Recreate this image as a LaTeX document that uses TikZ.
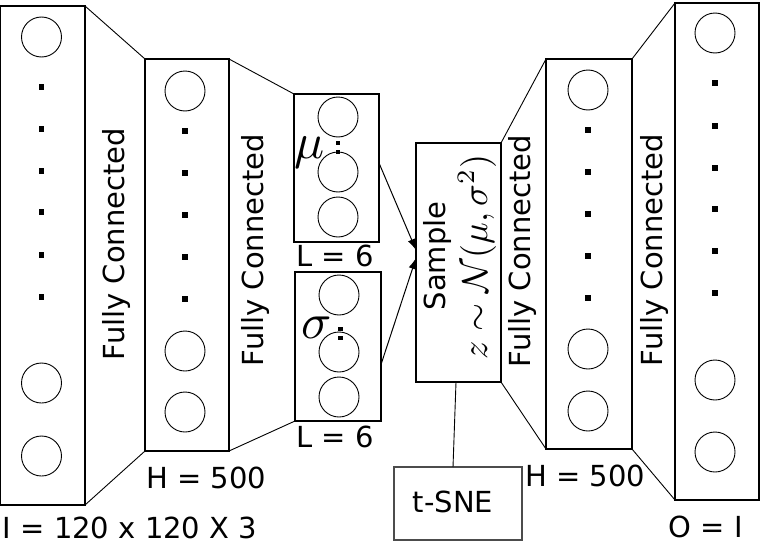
\documentclass[tikz,border=0pt]{standalone}
\usepackage[no-math]{fontspec}
\setmainfont{DejaVu Sans}
\usetikzlibrary{arrows.meta}
\tikzset{
  layer/.style={draw=black, line width=1.8pt, inner sep=0pt, outer sep=0pt, fill=none},
  neuron/.style={draw=black, line width=0.9pt, circle, minimum size=40pt, inner sep=0pt},
  dotmark/.style={fill=black, inner sep=0pt, minimum width=5.5pt, minimum height=5.5pt},
  smalldot/.style={fill=black, inner sep=0pt, minimum width=4.5pt, minimum height=4.5pt},
  link/.style={draw=black, line width=0.9pt},
  lbl/.style={font=\fontsize{29}{34}\selectfont, inner sep=0pt},
  fc/.style={lbl, rotate=90},
  greek/.style={font=\fontsize{10}{12}\selectfont, inner sep=0pt, scale=5},
  flow/.style={draw=black, line width=1pt, -{Latex[length=11pt,width=8pt]}},
}
\begin{document}
\begin{tikzpicture}[x=1pt,y=-1pt]
\useasboundingbox (0,0) rectangle (760,546);
% layers
\node[layer, minimum width=85pt, minimum height=499pt] (b1) at (42.5,255.5) {};
\node[layer, minimum width=84pt, minimum height=392pt] (b2) at (187,255) {};
\node[layer, minimum width=85pt, minimum height=148pt] (mu) at (336.5,168) {};
\node[layer, minimum width=86pt, minimum height=149pt] (sg) at (338,346.5) {};
\node[layer, minimum width=85pt, minimum height=239pt] (samp) at (458.5,262.5) {};
\node[layer, minimum width=86pt, minimum height=390pt] (b3) at (589,254) {};
\node[layer, minimum width=84pt, minimum height=497pt] (b4) at (717,251.5) {};
\node[draw=black!70, line width=1.2pt, minimum width=128pt, minimum height=73pt, inner sep=0pt, outer sep=0pt] (tsne) at (458,503.5) {};
% neurons
\node[neuron] (n11) at (41.5,37) {};
\node[neuron] (n12) at (41.5,383) {};
\node[neuron] (n13) at (41.5,456) {};
\node[neuron] (n21) at (185,91) {};
\node[neuron] (n22) at (185,351) {};
\node[neuron] (n23) at (185,412) {};
\node[neuron] (m1) at (338,117) {};
\node[neuron] (m2) at (338,172) {};
\node[neuron] (m3) at (338,217) {};
\node[neuron] (s1) at (339,295) {};
\node[neuron] (s2) at (339,352) {};
\node[neuron] (s3) at (339,397) {};
\node[neuron] (n31) at (588,90) {};
\node[neuron] (n32) at (588,349) {};
\node[neuron] (n33) at (588,411) {};
\node[neuron] (n41) at (715,33) {};
\node[neuron] (n42) at (715,380) {};
\node[neuron] (n43) at (715,452) {};
% dots
\foreach \y [count=\i] in {87,129,171,212,255,297} \node[dotmark] (d1\i) at (41.5,\y) {};
\foreach \y [count=\i] in {131,173,215,257,299} \node[dotmark] (d2\i) at (185,\y) {};
\foreach \y [count=\i] in {130,172,214,256,298} \node[dotmark] (d3\i) at (588,\y) {};
\foreach \y [count=\i] in {83,126,168,209,251,293} \node[dotmark] (d4\i) at (715,\y) {};
\node[smalldot] (dm1) at (338,143) {};
\node[smalldot] (dm2) at (338,152) {};
\node[smalldot] (ds1) at (340.5,329) {};
\node[smalldot] (ds2) at (340.5,338) {};
% greek labels
\node[greek] (mul) at (310,153) {$\mu$};
\node[greek] (sgl) at (317,328) {$\sigma$};
% connectors between layers
\draw[link] (b1.north east) -- (b2.north west);
\draw[link] (b1.south east) -- (b2.south west);
\draw[link] (b2.north east) -- (mu.north west);
\draw[link] (b2.south east) -- (sg.south west);
\draw[link] (samp.north east) -- (b3.north west);
\draw[link] (samp.south east) -- (b3.south west);
\draw[link] (b3.north east) -- (b4.north west);
\draw[link] (b3.south east) -- (b4.south west);
\draw[link] ([xshift=-2.5pt]samp.south) -- ([xshift=-5pt]tsne.north);
% arrows
\coordinate (tipm) at (416,250);
\coordinate (tips) at (416,258);
\draw[flow] ([yshift=5pt]mu.east) -- (tipm);
\draw[flow] ([yshift=-18pt]sg.east) -- (tips);
% texts
\node[fc] (fc1) at (116,244) {Fully Connected};
\node[fc] (fc2) at (255,250) {Fully Connected};
\node[fc] (fc3) at (522,251) {Fully Connected};
\node[fc] (fc4) at (654,250) {Fully Connected};
\node[fc] (smp) at (437,256) {Sample};
\node[rotate=90, font=\fontsize{10}{12}\selectfont, inner sep=0pt, scale=3.6] (dist) at (477,257) {$z\sim\mathcal{N}(\mu,\sigma^2)$};
\node[lbl] (inl) at (130,528) {I = 120 x 120 X 3};
\node[lbl] (h1) at (206,478) {H = 500};
\node[lbl] (h2) at (585,476) {H = 500};
\node[lbl] (ol) at (706,527) {O = I};
\node[lbl] (l1) at (335,256) {L = 6};
\node[lbl] (l2) at (335,437) {L = 6};
\node[lbl] (ts) at (453,502) {t-SNE};
\end{tikzpicture}
\end{document}
